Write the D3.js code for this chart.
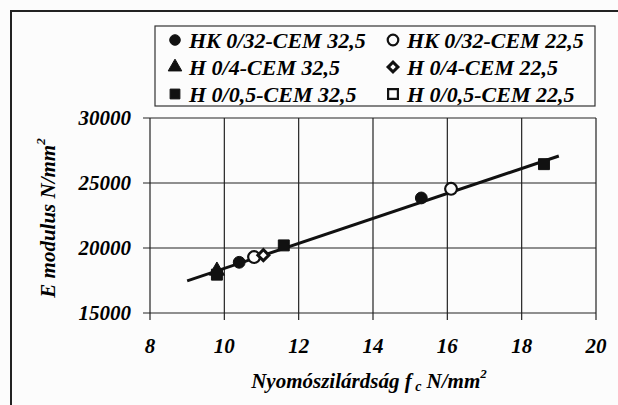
<!DOCTYPE html>
<html>
<head>
<meta charset="utf-8">
<script src="https://cdn.jsdelivr.net/npm/d3@7"></script>
<style>
  body { margin: 0; background: #fcfcfc; }
  svg text { font-family: "Liberation Serif", "Times New Roman", Tinos, "DejaVu Serif", serif; font-weight: 700; font-style: italic; }
</style>
</head>
<body>
<div id="chart"></div>
<script>
// series: label, symbol, filled
const seriesNames = ["HK 0/32-CEM 32,5", "HK 0/32-CEM 22,5", "H 0/4-CEM 32,5", "H 0/4-CEM 22,5", "H 0/0,5-CEM 32,5", "H 0/0,5-CEM 22,5"];
const seriesSymbols = ["circle", "circle", "triangle", "diamond", "square", "square"];
const seriesFilled = [true, false, true, false, true, false];

// measured points per series
const pointsX = [[10.4, 15.3], [10.8, 16.1], [9.8], [11.05], [9.8, 11.6, 18.6], []];
const pointsY = [[18900, 23850], [19300, 24550], [18250], [19450], [17950, 20200, 26450], []];

// regression line ends
const lineX = [9, 19];
const lineY = [17470, 27080];

const xTicks = [8, 10, 12, 14, 16, 18, 20];
const yTicks = [15000, 20000, 25000, 30000];

const width = 618, height = 405;
const margin = { top: 118, right: 22, bottom: 92, left: 150 };

const svg = d3.select("#chart").append("svg")
  .attr("width", width)
  .attr("height", height);

//frame
svg.append("rect")
  .attr("x", 11).attr("y", 11)
  .attr("width", width + 20).attr("height", height + 20)
  .attr("fill", "none").attr("stroke", "#222").attr("stroke-width", 2);

const x = d3.scaleLinear().domain([8, 20]).range([margin.left, width - margin.right]);
const y = d3.scaleLinear().domain([15000, 30000]).range([height - margin.bottom, margin.top]);

//grid
svg.append("g")
  .selectAll("line").data(xTicks).join("line")
  .attr("x1", d => x(d)).attr("x2", d => x(d))
  .attr("y1", y(30000)).attr("y2", y(15000) + 7)
  .attr("stroke", "#222").attr("stroke-width", 1.2);

svg.append("g")
  .selectAll("line").data(yTicks).join("line")
  .attr("x1", x(8) - 7).attr("x2", x(20))
  .attr("y1", d => y(d)).attr("y2", d => y(d))
  .attr("stroke", "#222").attr("stroke-width", 1.2);

//tick labels
svg.append("g")
  .selectAll("text").data(xTicks).join("text")
  .attr("x", d => x(d)).attr("y", 353)
  .attr("text-anchor", "middle")
  .attr("font-size", 21)
  .text(d => d);

svg.append("g")
  .selectAll("text").data(yTicks).join("text")
  .attr("x", 131).attr("y", d => y(d)).attr("dy", "0.35em")
  .attr("text-anchor", "end")
  .attr("font-size", 21)
  .text(d => d);

//axis titles
const xt = svg.append("text")
  .attr("x", 369).attr("y", 388)
  .attr("text-anchor", "middle")
  .attr("font-size", 21);
xt.append("tspan").text("Nyomószilárdság ");
xt.append("tspan").text("f");
xt.append("tspan").attr("font-size", 14).attr("dy", 3).text(" c");
xt.append("tspan").attr("dy", -3).text(" N/mm");
xt.append("tspan").attr("font-size", 13).attr("dy", -10).text("2");

const yt = svg.append("text")
  .attr("transform", "translate(55,218) rotate(-90)")
  .attr("text-anchor", "middle")
  .attr("font-size", 21);
yt.append("tspan").text("E modulus N/mm");
yt.append("tspan").attr("font-size", 13).attr("dy", -10).text("2");

//regression line
svg.append("path")
  .datum(lineX.map((d, i) => [d, lineY[i]]))
  .attr("fill", "none").attr("stroke", "#111").attr("stroke-width", 3)
  .attr("d", d3.line().x(d => x(d[0])).y(d => y(d[1])));

//markers
const symbolType = { circle: d3.symbolCircle, triangle: d3.symbolTriangle, diamond: d3.symbolSquare, square: d3.symbolSquare };
const symbolSize = { circle: 110, triangle: 100, diamond: 60, square: 120 };

function drawMarker(g, i, px, py, scale) {
  const s = seriesSymbols[i];
  const gen = d3.symbol().type(symbolType[s]).size(symbolSize[s] * scale);
  g.append("path")
    .attr("transform", `translate(${px},${py})` + (s === "diamond" ? " rotate(45)" : ""))
    .attr("d", gen())
    .attr("fill", seriesFilled[i] ? "#111" : "#fcfcfc")
    .attr("stroke", "#111")
    .attr("stroke-width", seriesFilled[i] ? 1 : (s === "diamond" ? 3 : 2.2));
}

const marks = svg.append("g");
seriesNames.forEach((name, i) => {
  pointsX[i].forEach((vx, j) => drawMarker(marks, i, x(vx), y(pointsY[i][j]), 1));
});

//legend
svg.append("rect")
  .attr("x", 155).attr("y", 26)
  .attr("width", 440).attr("height", 80)
  .attr("fill", "#fcfcfc").attr("stroke", "#333").attr("stroke-width", 1.2);

const legend = svg.append("g");
seriesNames.forEach((name, i) => {
  const col = i % 2, row = Math.floor(i / 2);
  const lx = col ? 393 : 175;
  const ly = 40 + row * 27;
  drawMarker(legend, i, lx, ly, 0.8);
  legend.append("text")
    .attr("x", lx + 14).attr("y", ly).attr("dy", "0.35em")
    .attr("font-size", 22)
    .text(name);
});
</script>
</body>
</html>
